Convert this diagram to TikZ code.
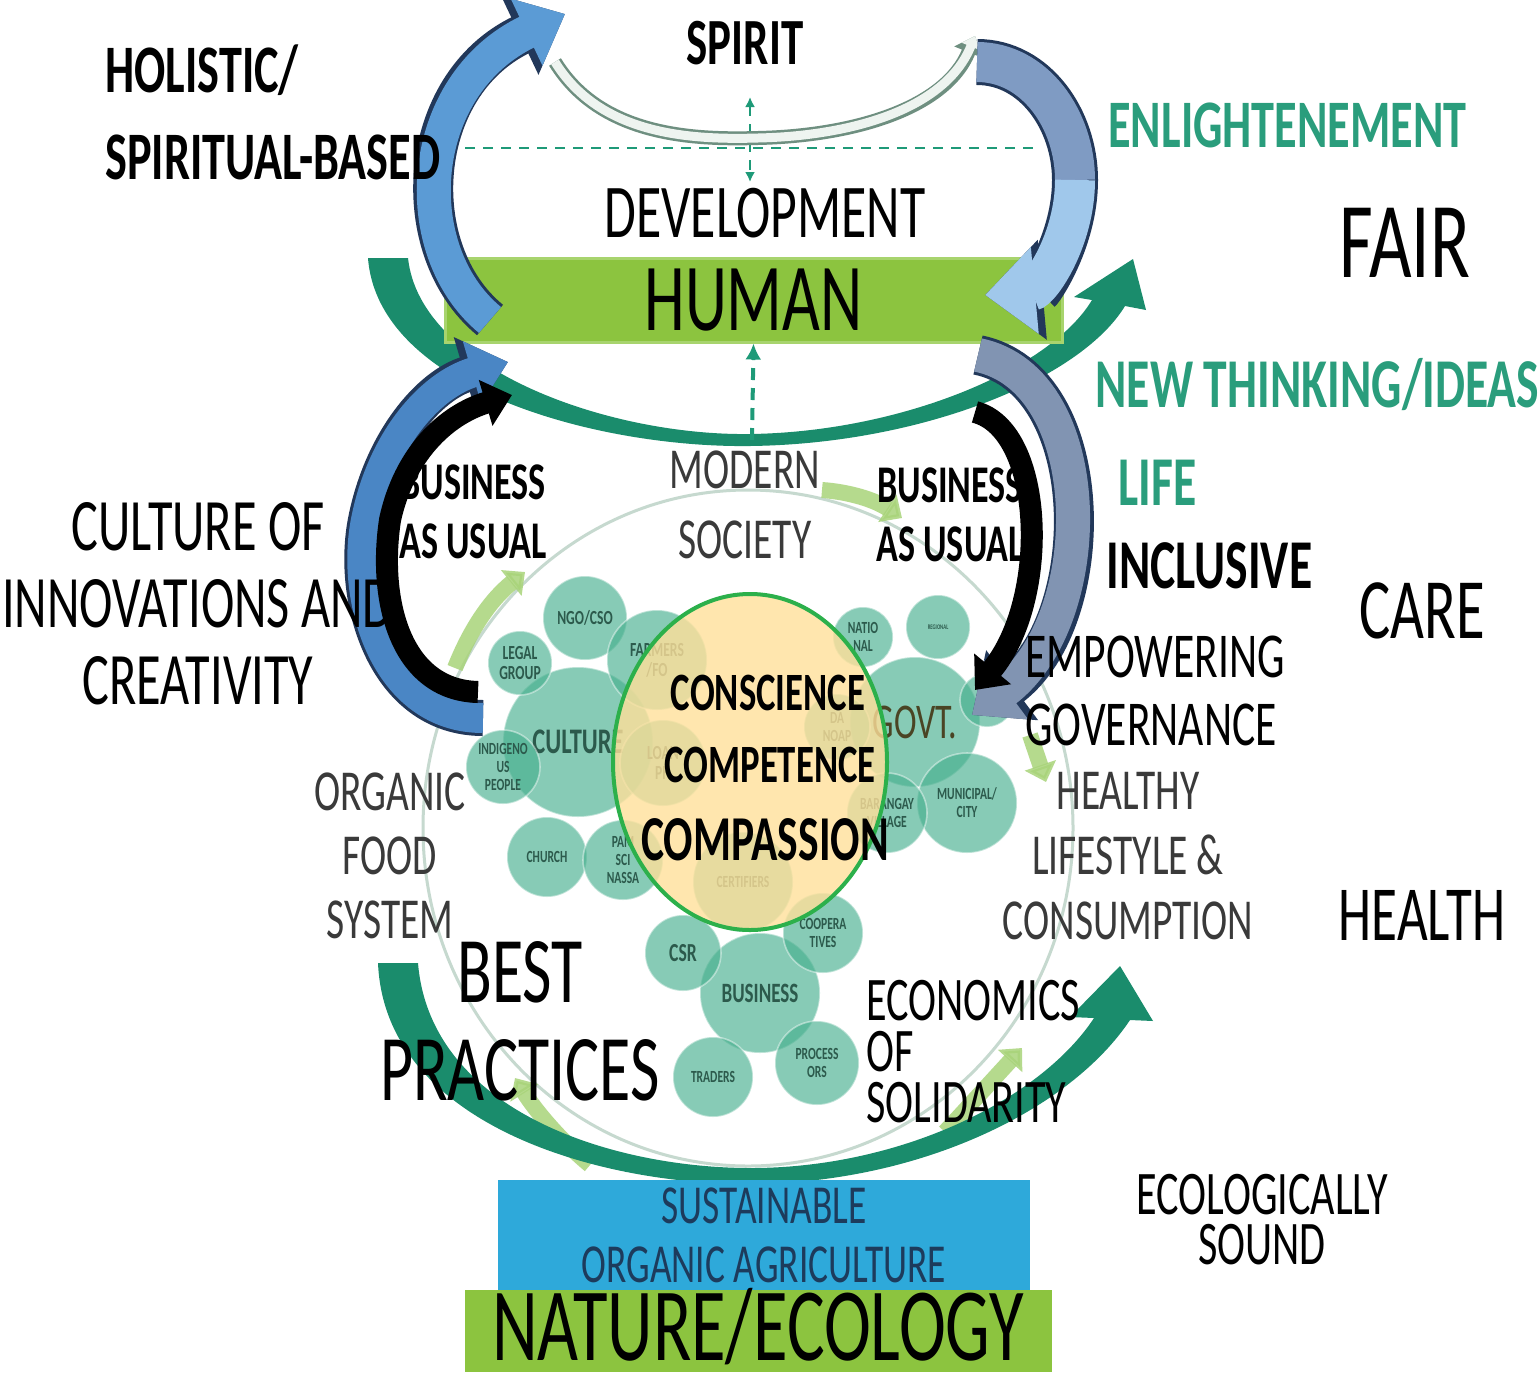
\documentclass[tikz,border=0pt]{standalone}
\usepackage{fontspec}
\setmainfont[FakeStretch=0.68]{Carlito}
\usetikzlibrary{arrows.meta}

\definecolor{arcteal}{HTML}{1A8C6C}
\definecolor{tealtext}{HTML}{2A9D7C}
\definecolor{dashteal}{HTML}{1E9A78}
\definecolor{humangreen}{HTML}{8CC43F}
\definecolor{baredge}{HTML}{A8D46E}
\definecolor{skyblue}{HTML}{2EA9DA}
\definecolor{sustext}{HTML}{1D3B5C}
\definecolor{textgray}{HTML}{3A3A3A}
\definecolor{circteal}{HTML}{48B08F}
\definecolor{circtext}{HTML}{2C5A4C}
\definecolor{govtext}{HTML}{4A4424}
\definecolor{yellowfill}{HTML}{FFE09A}
\definecolor{yellowedge}{HTML}{2CB04B}
\definecolor{ringgray}{HTML}{C6D9CF}
\definecolor{cycgreen}{HTML}{A9D47A}
\definecolor{arredge}{HTML}{22385A}
\definecolor{blueA}{HTML}{5B9BD5}
\definecolor{blueB}{HTML}{4A86C5}
\definecolor{grayblue}{HTML}{7F9BC3}
\definecolor{lightblue}{HTML}{A0C8EB}
\definecolor{slateblue}{HTML}{8194B2}
\definecolor{spiritedge}{HTML}{6E8F80}
\definecolor{spiritfill}{HTML}{EEF4F0}

\newcommand{\fnt}[2]{\fontsize{#1}{#2}\selectfont}

\tikzset{
  txt/.style={inner sep=0pt, align=center},
  tealbold/.style={txt, text=tealtext, font=\bfseries\fnt{35}{40}},
  circ/.style={circle, fill=circteal, fill opacity=.65, text opacity=1, draw=white, draw opacity=.45, line width=.8pt, minimum size=#1, inner sep=0pt, align=center, text=circtext, font=\bfseries\fnt{8.5}{9}},
  ribbon/.style={line width=#1, -{Triangle[width=0pt 2.1, length=0pt 1.25]}},
  cycarrow/.style={draw=cycgreen, opacity=.85, line width=8pt, -{Triangle[width=0pt 2, length=0pt 1.1]}},
  dashline/.style={draw=dashteal, dash pattern=on 5pt off 4pt},
}

\begin{document}
\begin{tikzpicture}[x=0.5pt,y=-0.5pt]
\useasboundingbox (0,0) rectangle (1540,1376);
\fill[white] (0,0) rectangle (1540,1376);

% modern society ring
\draw[ringgray, line width=1.5pt] (748,828) ellipse [x radius=162.5pt, y radius=169pt];
\draw[cycarrow] (455,668) .. controls (470,630) and (490,600) .. (525,572);
\draw[cycarrow] (822,490) .. controls (850,492) and (875,500) .. (902,518);
\draw[cycarrow] (1030,735) -- (1046,782);
\draw[cycarrow] (945,1132) -- (1022,1048);
\draw[cycarrow] (590,1165) .. controls (560,1140) and (535,1110) .. (515,1078);

% culture cluster
\node[circ=75pt, font=\bfseries\fnt{18}{19}] (cult) at (578,742) {CULTURE};
\node[circ=42pt, font=\bfseries\fnt{10}{10}] (ngo) at (585,618) {NGO/CSO};
\node[circ=32pt, font=\bfseries\fnt{10}{10}] (legal) at (520,663) {LEGAL\\GROUP};
\node[circ=50pt, font=\bfseries\fnt{10}{10}] (farmers) at (657,660) {FARMERS\\/FO};
\node[circ=37pt] (indig) at (503,767) {INDIGENO\\US\\PEOPLE};
\node[circ=43pt, font=\bfseries\fnt{10}{10}] (loan) at (663,763) {LOAN\\PH};
\node[circ=40pt] (church) at (547,857) {CHURCH};
\node[circ=40pt] (pamsci) at (623,860) {PAM\\SCI\\NASSA};

% government cluster
\node[circ=65pt, text=govtext, font=\fnt{25}{26}] (govt) at (915,722) {GOVT.};
\node[circ=30pt] (natl) at (863,637) {NATIO\\NAL};
\node[circ=32pt, font=\bfseries\fnt{3.5}{4}] (region) at (938,627) {REGIONAL};
\node[circ=27pt] (govsmall) at (987,700) {};
\node[circ=50pt] (munic) at (967,803) {MUNICIPAL/\\CITY};
\node[circ=40pt] (brgy) at (887,813) {BARANGAY\\VILLAGE};
\node[circ=33pt] (danoap) at (837,727) {DA\\NOAP};

% business cluster
\node[circ=60pt, font=\bfseries\fnt{14}{15}] (biz) at (760,993) {BUSINESS};
\node[circ=50pt] (certif) at (743,882) {CERTIFIERS};
\node[circ=38pt, font=\bfseries\fnt{13}{14}] (csr) at (683,953) {CSR};
\node[circ=40pt] (coop) at (823,933) {COOPERA\\TIVES};
\node[circ=40pt] (traders) at (713,1077) {TRADERS};
\node[circ=42pt] (process) at (817,1063) {PROCESS\\ORS};

% the three C
\filldraw[fill=yellowfill, fill opacity=.8, draw=yellowedge, line width=2pt] (750,762) ellipse [x radius=68.5pt, y radius=84pt];
\node[txt, font=\bfseries\fnt{27}{30}] (consc) at (768,693) {CONSCIENCE};
\node[txt, font=\bfseries\fnt{27}{30}] (compet) at (770,765) {COMPETENCE};
\node[txt, font=\bfseries\fnt{32}{34}] (compas) at (765,840) {COMPASSION};

% big teal arcs
\fill[arcteal] (378,963) .. controls (385,1125) and (600,1185) .. (751,1184) .. controls (920,1183) and (1070,1110) .. (1130,1020) -- (1153,1021) -- (1120,966) -- (1070,1017) -- (1094,1018) .. controls (1040,1100) and (900,1168) .. (751,1168) .. controls (610,1168) and (430,1110) .. (418,963) -- cycle;
\fill[arcteal] (368,258) .. controls (378,390) and (600,448) .. (750,446) .. controls (920,444) and (1080,380) .. (1125,306) -- (1146,310) -- (1133,259) -- (1074,297) -- (1092,300) .. controls (1050,370) and (900,432) .. (750,434) .. controls (610,436) and (420,370) .. (408,258) -- cycle;

% human bar
\node[fill=humangreen, draw=baredge, line width=1.5pt, minimum width=308.5pt, minimum height=42pt, inner sep=0pt, font=\fnt{48}{50}] (human) at (753.5,300) {HUMAN};

% dashed guides
\coordinate (arclow) at (752,440);
\coordinate (spiritlow) at (750,97);
\coordinate (devtop) at (750,182);
\coordinate (divleft) at (465,148);
\coordinate (divright) at (1034,148);
\draw[dashline, line width=2pt, dash pattern=on 6pt off 4pt, -{Latex[length=8pt, width=8pt]}] (arclow) -- (human.south);
\draw[dashline, line width=1pt, {Latex[length=5pt, width=5pt]}-{Latex[length=5pt, width=5pt]}] (spiritlow) -- (devtop);
\draw[dashline, line width=1pt] (divleft) -- (divright);

% spirit arc
\coordinate (spL) at (555,62);
\coordinate (spM) at (758,138);
\coordinate (spR) at (975,36);
\draw[ribbon=7pt, spiritedge] (spL) .. controls (600,135) and (690,140) .. (spM) .. controls (850,136) and (945,110) .. (spR);
\draw[ribbon=4.5pt, spiritfill] (spL) .. controls (600,135) and (690,140) .. (spM) .. controls (850,136) and (945,110) .. (spR);

% upper blue arrows
\coordinate (tlTail) at (490,320);
\coordinate (tlTip) at (565,14);
\draw[ribbon=20pt, arredge] (tlTail) .. controls (405,250) and (415,85) .. (tlTip);
\draw[ribbon=17pt, blueA] (tlTail) .. controls (405,250) and (415,85) .. (tlTip);
\coordinate (trTail) at (977,62);
\coordinate (trMid) at (1075,180);
\coordinate (trTip) at (985,295);
\draw[ribbon=23pt, arredge] (trTail) .. controls (1035,62) and (1075,120) .. (trMid) .. controls (1075,240) and (1040,290) .. (trTip);
\draw[line width=20pt, grayblue] (trTail) .. controls (1035,62) and (1075,120) .. (trMid);
\draw[ribbon=20pt, lightblue] (trMid) .. controls (1075,240) and (1040,290) .. (trTip);

% lower arrows
\coordinate (blTail) at (483,718);
\coordinate (blTip) at (508,362);
\draw[ribbon=18pt, arredge] (blTail) .. controls (385,718) and (350,600) .. (366,520) .. controls (382,440) and (430,385) .. (blTip);
\draw[ribbon=15pt, blueB] (blTail) .. controls (385,718) and (350,600) .. (366,520) .. controls (382,440) and (430,385) .. (blTip);
\coordinate (kbTail) at (478,692);
\coordinate (kbTip) at (512,395);
\draw[ribbon=11pt, black] (kbTail) .. controls (400,690) and (378,600) .. (390,520) .. controls (404,455) and (445,415) .. (kbTip);
\coordinate (brTail) at (978,355);
\coordinate (brTip) at (972,715);
\draw[ribbon=20pt, arredge] (brTail) .. controls (1100,380) and (1100,620) .. (brTip);
\draw[ribbon=17pt, slateblue] (brTail) .. controls (1100,380) and (1100,620) .. (brTip);
\coordinate (krTail) at (975,412);
\coordinate (krTip) at (975,690);
\draw[ribbon=11pt, black] (krTail) .. controls (1045,430) and (1050,600) .. (krTip);

% labels
\node[txt, font=\bfseries\fnt{33}{36}] (spirit) at (745,43) {SPIRIT};
\node[txt, anchor=west, align=left, font=\bfseries\fnt{34}{43.5}] (holistic) at (105,112) {HOLISTIC/\\SPIRITUAL-BASED};
\node[tealbold, anchor=west, font=\bfseries\fnt{34}{40}] (enlight) at (1108,125) {ENLIGHTENEMENT};
\node[txt, font=\fnt{54}{60}] (fair) at (1405,243) {FAIR};
\node[txt, font=\fnt{38}{40}] (devel) at (765,213) {DEVELOPMENT};
\node[tealbold, anchor=west] (newthink) at (1095,385) {NEW THINKING/IDEAS};
\node[tealbold, anchor=west] (life) at (1118,483) {LIFE};
\node[txt, anchor=west, font=\bfseries\fnt{35}{40}] (inclusive) at (1106,566) {INCLUSIVE};
\node[txt, font=\fnt{43}{48}] (care) at (1422,611) {CARE};
\node[txt, anchor=west, align=left, font=\fnt{32}{34}] (empower) at (1025,691) {EMPOWERING\\GOVERNANCE};
\node[txt, text=textgray, font=\fnt{29}{32.5}] (healthy) at (1128,856) {HEALTHY\\LIFESTYLE \&\\CONSUMPTION};
\node[txt, font=\fnt{39}{44}] (health) at (1422,915) {HEALTH};
\node[txt, anchor=west, align=left, font=\fnt{31}{25.5}] (econ) at (866,1052) {ECONOMICS\\OF\\SOLIDARITY};
\node[txt, font=\fnt{31}{25}] (ecosound) at (1262,1220) {ECOLOGICALLY\\SOUND};
\node[txt, font=\fnt{37}{38.5}] (culture) at (198,604) {CULTURE OF\\INNOVATIONS AND\\CREATIVITY};
\node[txt, font=\bfseries\fnt{26.5}{29.5}] (bauleft) at (473,512) {BUSINESS\\AS USUAL};
\node[txt, font=\bfseries\fnt{26.5}{29.5}] (bauright) at (950,515) {BUSINESS\\AS USUAL};
\node[txt, text=textgray, font=\fnt{29}{35}] (modern) at (745,505) {MODERN\\SOCIETY};
\node[txt, text=textgray, font=\fnt{29}{32}] (organic) at (390,856) {ORGANIC\\FOOD\\SYSTEM};
\node[txt, font=\fnt{47}{49}] (best) at (520,1021) {BEST\\PRACTICES};

% base
\node[fill=skyblue, minimum width=266pt, minimum height=55pt, inner sep=0pt, text=sustext, align=center, font=\fnt{27.5}{29.5}] (sustain) at (764,1235) {SUSTAINABLE\\ORGANIC AGRICULTURE};
\fill[humangreen] (465,1290) rectangle (1052,1372);
\node[txt, font=\fnt{52}{55}] (nature) at (758,1327) {NATURE/ECOLOGY};

\end{tikzpicture}
\end{document}
